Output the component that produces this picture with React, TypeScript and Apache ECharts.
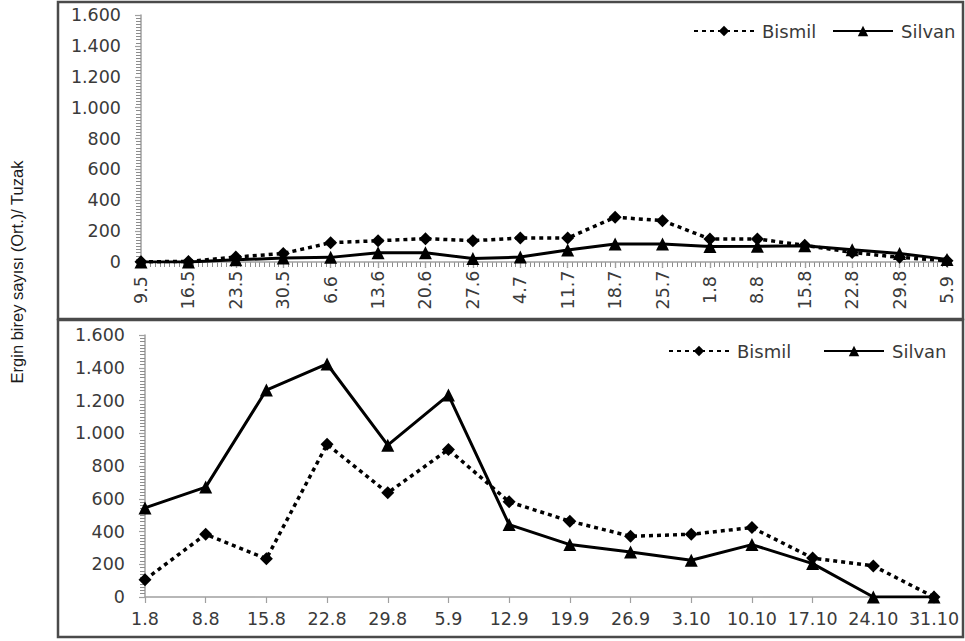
import React, { useEffect, useRef } from "react";
import * as echarts from "echarts";

const topCategories = ["9.5", "16.5", "23.5", "30.5", "6.6", "13.6", "20.6", "27.6", "4.7", "11.7", "18.7", "25.7", "1.8", "8.8", "15.8", "22.8", "29.8", "5.9"];
const topBismil = [2, 3, 32, 55, 125, 138, 151, 138, 155, 155, 290, 268, 149, 149, 108, 62, 30, 8];
const topSilvan = [0, 0, 14, 26, 30, 60, 60, 22, 32, 78, 117, 117, 100, 102, 105, 80, 55, 17];

const bottomCategories = ["1.8", "8.8", "15.8", "22.8", "29.8", "5.9", "12.9", "19.9", "26.9", "3.10", "10.10", "17.10", "24.10", "31.10"];
const bottomBismil = [106, 383, 234, 933, 636, 901, 581, 463, 371, 383, 424, 238, 190, 0];
const bottomSilvan = [544, 671, 1264, 1423, 927, 1233, 442, 320, 275, 224, 320, 204, 0, 0];

const seriesNames = ["Bismil", "Silvan"];
const yTitle = "Ergin birey sayısı (Ort.)/ Tuzak";

const FONT = "DejaVu Sans";
const LABEL_COLOR = "#3a3a3a";
const AXIS_COLOR = "#a0a0a0";
const MINOR_COLOR = "#8c8c8c";

const fmt = (v: number) =>
  v >= 1000 ? `${Math.floor(v / 1000)}.${String(v % 1000).padStart(3, "0")}` : String(v);

export default function App() {
  const ref = useRef<HTMLDivElement>(null);

  useEffect(() => {
    if (!ref.current) return;
    const chart = echarts.init(ref.current, null, { renderer: "svg" });

    const yAxisBase = (gridIndex: number) => ({
      type: "value",
      gridIndex,
      min: 0,
      max: 1600,
      interval: 200,
      axisLine: { show: true, lineStyle: { color: AXIS_COLOR, width: 1.5 } },
      axisTick: { show: true, length: 6, lineStyle: { color: AXIS_COLOR, width: 1.2 } },
      minorTick: { show: true, splitNumber: 10, length: 5, lineStyle: { color: MINOR_COLOR, width: 1 } },
      splitLine: { show: false },
      axisLabel: { color: LABEL_COLOR, fontFamily: FONT, fontSize: 17.5, margin: 20, formatter: fmt },
    });

    const bismilStyle = (xi: number, yi: number, data: number[]) => ({
      name: seriesNames[0],
      type: "line",
      xAxisIndex: xi,
      yAxisIndex: yi,
      data,
      symbol: "diamond",
      symbolSize: 13,
      itemStyle: { color: "#000" },
      lineStyle: { color: "#000", width: 3.5, type: [4, 4] },
      z: 3,
    });
    const silvanStyle = (xi: number, yi: number, data: number[]) => ({
      name: seriesNames[1],
      type: "line",
      xAxisIndex: xi,
      yAxisIndex: yi,
      data,
      symbol: "triangle",
      symbolSize: 13,
      itemStyle: { color: "#000" },
      lineStyle: { color: "#000", width: 3 },
      z: 4,
    });

    const legendBase = (left: number, top: number, name: string, itemWidth: number) => ({
      left,
      top,
      data: [name],
      itemWidth,
      itemHeight: 13,
      itemGap: 0,
      padding: 0,
      textStyle: { color: LABEL_COLOR, fontFamily: FONT, fontSize: 18, padding: [0, 0, 0, 3] },
      selectedMode: false,
    });

    chart.setOption({
      animation: false,
      backgroundColor: "#fff",
      grid: [
        { left: 141, top: 15, width: 806, height: 247 },
        { left: 145, top: 335, width: 789, height: 262 },
      ],
      xAxis: [
        {
          type: "category",
          gridIndex: 0,
          data: topCategories,
          boundaryGap: false,
          axisLine: { lineStyle: { color: AXIS_COLOR, width: 1.5 } },
          axisTick: { show: true, length: 6, alignWithLabel: true, lineStyle: { color: AXIS_COLOR, width: 1.2 } },
          axisLabel: {
            color: LABEL_COLOR,
            fontFamily: FONT,
            fontSize: 17.5,
            rotate: 90,
            align: "center",
            margin: 28,
            interval: 0,
          },
          z: 2,
        },
        {
          type: "value",
          gridIndex: 0,
          min: 0,
          max: topCategories.length - 1,
          interval: 1,
          position: "bottom",
          axisLine: { show: false },
          axisTick: { show: true, length: 6, lineStyle: { color: AXIS_COLOR, width: 1.2 } },
          minorTick: { show: true, splitNumber: 10, length: 5, lineStyle: { color: MINOR_COLOR, width: 1 } },
          axisLabel: { show: false },
          splitLine: { show: false },
        },
        {
          type: "category",
          gridIndex: 1,
          data: bottomCategories,
          boundaryGap: false,
          axisLine: { lineStyle: { color: AXIS_COLOR, width: 1.5 } },
          axisTick: { show: true, length: 6, lineStyle: { color: AXIS_COLOR, width: 1.2 } },
          axisLabel: { color: LABEL_COLOR, fontFamily: FONT, fontSize: 17.5, margin: 13, interval: 0 },
        },
      ],
      yAxis: [yAxisBase(0), yAxisBase(1)],
      legend: [
        legendBase(693, 22, seriesNames[0], 60),
        legendBase(832, 22, seriesNames[1], 60),
        legendBase(668, 342, seriesNames[0], 60),
        legendBase(823, 342, seriesNames[1], 60),
      ],
      series: [
        bismilStyle(0, 0, topBismil),
        silvanStyle(0, 0, topSilvan),
        bismilStyle(2, 1, bottomBismil),
        silvanStyle(2, 1, bottomSilvan),
        {
          type: "line",
          name: "_ticks",
          xAxisIndex: 1,
          yAxisIndex: 0,
          data: [],
          silent: true,
          showSymbol: false,
        },
      ],
      graphic: [
        {
          type: "rect",
          shape: { x: 58, y: 2, width: 905, height: 317 },
          style: { fill: "none", stroke: "#4a4a4a", lineWidth: 2.5 },
          z: 10,
        },
        {
          type: "rect",
          shape: { x: 58, y: 320, width: 905, height: 317 },
          style: { fill: "none", stroke: "#4a4a4a", lineWidth: 2.5 },
          z: 10,
        },
        {
          type: "text",
          x: 17,
          y: 272,
          rotation: Math.PI / 2,
          style: {
            text: yTitle,
            font: "16.5px 'Liberation Sans'",
            fill: "#1a1a1a",
            textAlign: "center",
            textVerticalAlign: "middle",
          },
        },
      ],
    });

    return () => chart.dispose();
  }, []);

  return (
    <div
      ref={ref}
      style={{ position: "absolute", left: 0, top: 0, width: 965, height: 641, background: "#fff" }}
    />
  );
}
